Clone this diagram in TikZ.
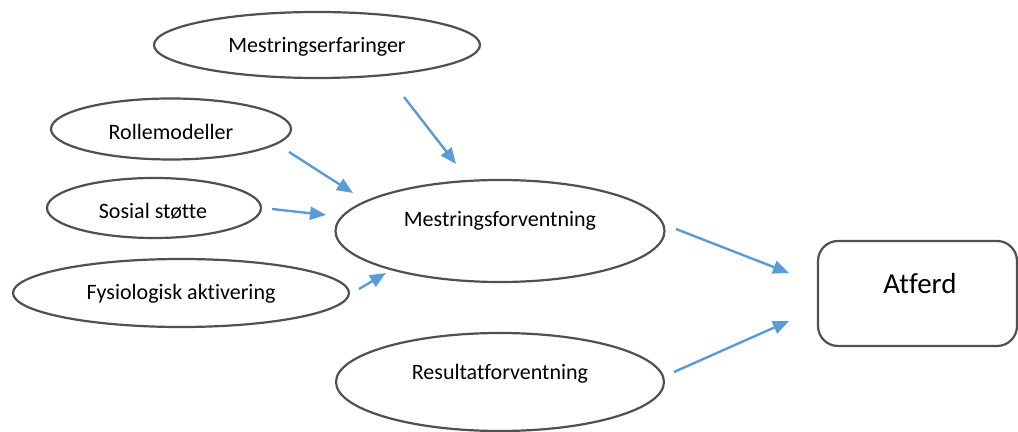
\documentclass[tikz,border=0pt]{standalone}
\usepackage{fontspec}
\setmainfont{Carlito}[Ligatures=NoCommon]
\usetikzlibrary{shapes.geometric,arrows.meta}
\definecolor{arrowblue}{HTML}{5B9BD5}
\definecolor{outline}{HTML}{505050}
\tikzset{
  oval/.style={ellipse, draw=outline, line width=1.1pt, inner sep=0pt},
  txt/.style={font=\fontsize{11}{13}\selectfont, inner sep=0pt},
  bigtxt/.style={font=\fontsize{14.5}{17}\selectfont, inner sep=0pt},
  rbox/.style={draw=outline, line width=1.1pt, rounded corners=10pt, inner sep=0pt},
  conn/.style={draw=arrowblue, line width=1.2pt, -{Triangle[length=8pt,width=6.5pt]}}
}
\begin{document}
\begin{tikzpicture}[x=0.5pt,y=-0.5pt]
\useasboundingbox (0,0) rectangle (1018,432);
% ellipses
\node[oval, minimum width=163pt, minimum height=33pt] (me) at (317,45) {};
\node[txt] (metx) at (317,47) {Mestringserfaringer};
\node[oval, minimum width=120pt, minimum height=30.5pt] (ro) at (171,129) {};
\node[txt] (rotx) at (171,132) {Rollemodeller};
\node[oval, minimum width=107pt, minimum height=30pt] (so) at (154,208) {};
\node[txt] (sotx) at (153,211) {Sosial støtte};
\node[oval, minimum width=168pt, minimum height=34pt] (fy) at (181,293) {};
\node[txt] (fytx) at (181,294) {Fysiologisk aktivering};
\node[oval, minimum width=164.5pt, minimum height=51pt] (mf) at (500,231) {};
\node[txt] (mftx) at (500,221) {Mestringsforventning};
\node[oval, minimum width=164pt, minimum height=49pt] (rf) at (500,382) {};
\node[txt] (rftx) at (500,374) {Resultatforventning};
% Atferd box
\node[rbox, minimum width=99.5pt, minimum height=52.5pt] (at) at (917.5,293.5) {};
\node[bigtxt] (attx) at (920,284) {Atferd};
% arrow coordinates
\coordinate (a1s) at (404,97);  \coordinate (a1e) at (456,164);
\coordinate (a2s) at (289,152); \coordinate (a2e) at (353,193);
\coordinate (a3s) at (272,209); \coordinate (a3e) at (326,215);
\coordinate (a4s) at (359,289); \coordinate (a4e) at (386,273);
\coordinate (a5s) at (676,229); \coordinate (a5e) at (789,273);
\coordinate (a6s) at (674,372); \coordinate (a6e) at (789,321);
\draw[conn] (a1s) -- (a1e);
\draw[conn] (a2s) -- (a2e);
\draw[conn] (a3s) -- (a3e);
\draw[conn] (a4s) -- (a4e);
\draw[conn] (a5s) -- (a5e);
\draw[conn] (a6s) -- (a6e);
\end{tikzpicture}
\end{document}
